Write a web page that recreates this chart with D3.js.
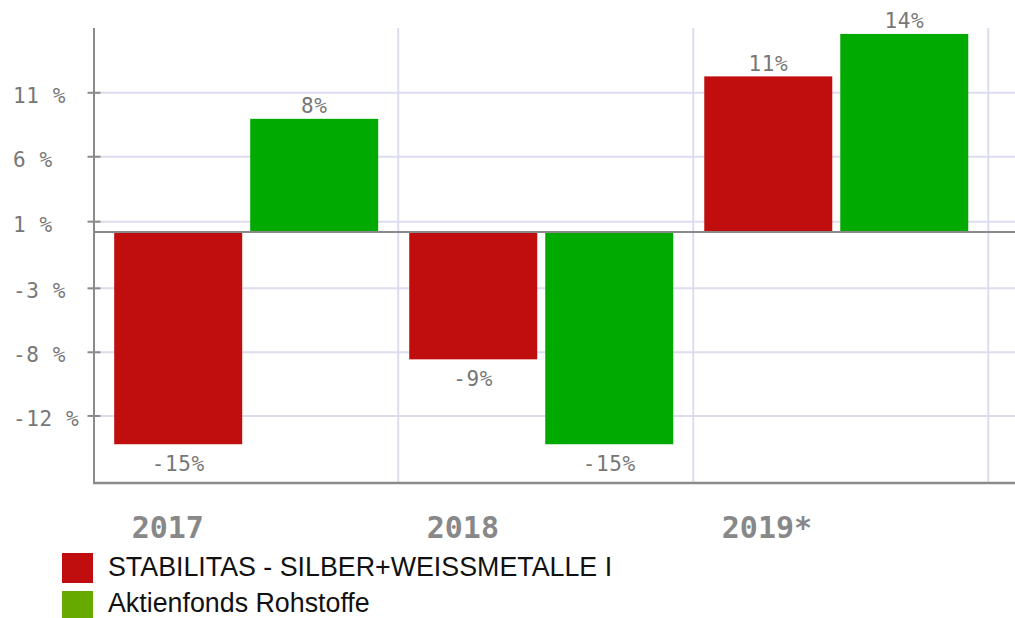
<!DOCTYPE html>
<html>
<head>
<meta charset="utf-8">
<script src="https://cdn.jsdelivr.net/npm/d3@7"></script>
<style>
  html, body { margin: 0; padding: 0; background: #fff; }
  svg { display: block; }
</style>
</head>
<body>
<script>
// ---- data ----
const categories = ["2017", "2018", "2019*"];
const seriesNames = ["STABILITAS - SILBER+WEISSMETALLE I", "Aktienfonds Rohstoffe"];
const seriesA = [-15, -9, 11];   // STABILITAS - SILBER+WEISSMETALLE I
const seriesB = [8, -15, 14];    // Aktienfonds Rohstoffe
const yTickValues = [9.84, 5.32, 0.73, -3.98, -8.5, -13.0];
const yTickLabels = ["11 %", "6 %", "1 %", "-3 %", "-8 %", "-12 %"];
const valueLabels = [["-15%", "-9%", "11%"], ["8%", "-15%", "14%"]];

const barColors = ["#c00d0d", "#00aa00"];
const legendColors = ["#c00d0d", "#66aa00"];

const W = 1015, H = 618;
const svg = d3.select("body").append("svg").attr("width", W).attr("height", H);

const axisX = 94, plotTop = 28, plotBottom = 483, plotRight = 1015;

const y = d3.scaleLinear().domain([-17.74, 14.42]).range([plotBottom, plotTop]);
const x0 = d3.scaleBand().domain(categories).range([103.2, 988.3]).padding(0);
const x1 = d3.scaleBand().domain([0, 1]).range([11, 275]).paddingInner(8 / 136).paddingOuter(0);

const gridColor = "#dcdcef";
const axisColor = "#8a8a8a";

// horizontal gridlines
svg.append("g").selectAll("line").data(yTickValues).join("line")
  .attr("x1", axisX).attr("x2", plotRight)
  .attr("y1", d => y(d)).attr("y2", d => y(d))
  .attr("stroke", gridColor).attr("stroke-width", 2);

// vertical gridlines at band ends
svg.append("g").selectAll("line").data(categories).join("line")
  .attr("x1", d => x0(d) + x0.bandwidth()).attr("x2", d => x0(d) + x0.bandwidth())
  .attr("y1", plotTop).attr("y2", plotBottom)
  .attr("stroke", gridColor).attr("stroke-width", 2);

// bars
const allSeries = [seriesA, seriesB];
allSeries.forEach((vals, si) => {
  svg.append("g").selectAll("rect").data(vals).join("rect")
    .attr("x", (d, i) => x0(categories[i]) + x1(si))
    .attr("width", x1.bandwidth())
    .attr("y", d => y(Math.max(0, d)))
    .attr("height", d => Math.abs(y(d) - y(0)))
    .attr("fill", barColors[si]);
});

// value labels
const monoFont = "'DejaVu Sans Mono', 'Liberation Mono', monospace";
allSeries.forEach((vals, si) => {
  svg.append("g").selectAll("text").data(vals).join("text")
    .attr("x", (d, i) => x0(categories[i]) + x1(si) + x1.bandwidth() / 2)
    .attr("y", d => d >= 0 ? y(d) - 5.5 : y(d) + 27)
    .attr("text-anchor", "middle")
    .attr("font-family", monoFont)
    .attr("font-size", 21)
    .attr("letter-spacing", 0.6)
    .attr("fill", "#777")
    .text((d, i) => valueLabels[si][i]);
});

// zero line
svg.append("line")
  .attr("x1", axisX).attr("x2", plotRight)
  .attr("y1", y(0)).attr("y2", y(0))
  .attr("stroke", axisColor).attr("stroke-width", 2);

// y axis line and bottom axis
svg.append("line")
  .attr("x1", axisX).attr("x2", axisX)
  .attr("y1", plotTop).attr("y2", plotBottom + 1)
  .attr("stroke", axisColor).attr("stroke-width", 2);
svg.append("line")
  .attr("x1", axisX - 1).attr("x2", plotRight)
  .attr("y1", plotBottom).attr("y2", plotBottom)
  .attr("stroke", axisColor).attr("stroke-width", 2.5);

// y ticks
svg.append("g").selectAll("line").data(yTickValues).join("line")
  .attr("x1", 87.5).attr("x2", 100.5)
  .attr("y1", d => y(d)).attr("y2", d => y(d))
  .attr("stroke", axisColor).attr("stroke-width", 2);

svg.append("g").selectAll("text").data(yTickValues).join("text")
  .attr("x", 13)
  .attr("y", d => y(d) + 10)
  .attr("text-anchor", "start")
  .attr("font-family", monoFont)
  .attr("font-size", 21)
  .attr("letter-spacing", 0.6)
  .attr("fill", "#777")
  .text((d, i) => yTickLabels[i]);

// category labels
svg.append("g").selectAll("text").data(categories).join("text")
  .attr("x", d => x0(d) + 28.5)
  .attr("y", 538)
  .attr("text-anchor", "start")
  .attr("font-family", monoFont)
  .attr("font-weight", "bold")
  .attr("font-size", 30)
  .attr("fill", "#888")
  .text(d => d);

// legend
const legend = svg.append("g");
seriesNames.forEach((name, i) => {
  const top = 553 + i * 38;
  legend.append("rect")
    .attr("x", 62).attr("y", top).attr("width", 31).attr("height", 30)
    .attr("fill", legendColors[i]);
  legend.append("text")
    .attr("x", 108).attr("y", top + 23 - i * 2)
    .attr("font-family", "'Liberation Sans', Arial, sans-serif")
    .attr("font-size", 26.8)
    .attr("fill", "#111")
    .text(name);
});
</script>
</body>
</html>
